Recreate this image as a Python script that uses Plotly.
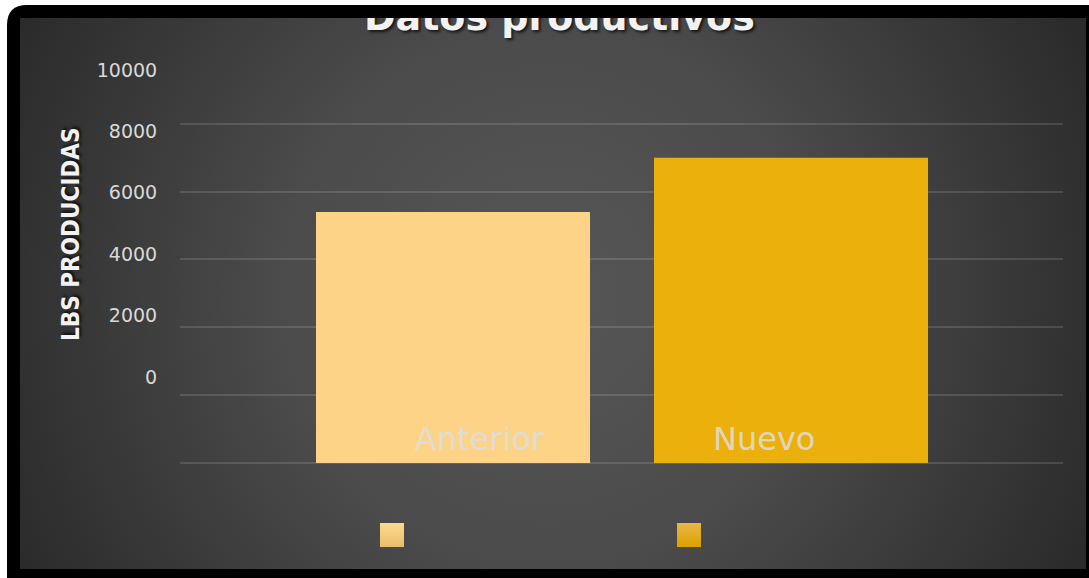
import base64
import plotly.graph_objects as go

# ---------------- data ----------------
categories = ["Anterior", "Nuevo"]
values = [5400, 7000]
tick_values = [0, 2000, 4000, 6000, 8000, 10000]
tick_labels = ["0", "2000", "4000", "6000", "8000", "10000"]
grid_values = [-2000, 0, 2000, 4000, 6000, 8000]
axis_floor = -2000
title_text = "Datos productivos"
y_title_text = "LBS PRODUCIDAS"

# ---------------- style / layout constants ----------------
W, H = 1089, 578
bar_colors = ["#FDD487", "#ECB00C"]
swatch_top = ["#FFD98F", "#E9B744"]
swatch_bottom = ["#E8BE6B", "#DCA000"]
label_xshift = [27, -27]

def px_x(p):
    return p / W

def px_y(p):
    return (H - p) / H

# background: white page, black rounded frame, dark radial gradient panel
svg = f"""<svg xmlns="http://www.w3.org/2000/svg" width="{W}" height="{H}" viewBox="0 0 {W} {H}">
<defs><radialGradient id="g" cx="548" cy="295" r="600" gradientUnits="userSpaceOnUse">
<stop offset="0" stop-color="#575757"/><stop offset="0.45" stop-color="#4b4b4b"/><stop offset="1" stop-color="#2a2a2a"/>
</radialGradient></defs>
<rect width="{W}" height="{H}" fill="#ffffff"/>
<path d="M7,{H} L7,25 Q7,5 27,5 L{W},5 L{W},{H} Z" fill="#000000"/>
<rect x="20" y="18" width="1066" height="551" fill="url(#g)"/>
</svg>"""
bg_src = "data:image/svg+xml;base64," + base64.b64encode(svg.encode()).decode()

fig = go.Figure()

# bars
fig.add_trace(go.Bar(
    x=categories,
    y=[v - axis_floor for v in values],
    base=axis_floor,
    width=0.8107,
    marker=dict(color=bar_colors, line=dict(width=0)),
    xaxis="x", yaxis="y",
    showlegend=False,
    hovertemplate="%{x}: %{customdata}<extra></extra>",
    customdata=values,
))

# invisible trace to activate the label axis
fig.add_trace(go.Scatter(
    x=categories, y=values, xaxis="x", yaxis="y2", mode="markers",
    marker=dict(opacity=0), showlegend=False, hoverinfo="skip",
))

# title (its top is hidden behind the frame band)
fig.add_trace(go.Scatter(
    x=[0.506], y=[0.93], xaxis="x3", yaxis="y3", mode="text",
    text=[title_text], textposition="middle center",
    textfont=dict(family="DejaVu Sans", size=38, color="#F2F2F2", weight="bold",
                  shadow="2px 2px 3px rgba(0,0,0,0.7)"),
    cliponaxis=True, showlegend=False, hoverinfo="skip",
))

# legend swatches (no text)
fig.add_trace(go.Scatter(
    x=categories, y=[0.5, 0.5], xaxis="x4", yaxis="y4", mode="markers",
    marker=dict(symbol="square", size=24, color=swatch_top,
                gradient=dict(type="vertical", color=swatch_bottom),
                line=dict(width=0)),
    showlegend=False, hoverinfo="skip",
))

x_dom = [px_x(180), px_x(1063)]
y_dom = [px_y(464), px_y(56)]

annotations = []
for i, c in enumerate(categories):
    annotations.append(dict(
        x=c, y=axis_floor, xref="x", yref="y", text=c, showarrow=False,
        xanchor="center", yanchor="middle", xshift=label_xshift[i], yshift=24,
        font=dict(family="DejaVu Sans", size=32, color="rgba(222,222,222,0.85)"),
    ))
annotations.append(dict(
    x=px_x(71), y=px_y(234), xref="paper", yref="paper", text=y_title_text,
    showarrow=False, textangle=-90, xanchor="center", yanchor="middle",
    font=dict(family="DejaVu Sans Condensed", size=24, color="#F2F2F2", weight="bold",
              shadow="2px 2px 3px rgba(0,0,0,0.7)"),
))

# frame band that covers the upper part of the title
shapes = [
    dict(type="rect", xref="paper", yref="paper", layer="above",
         x0=px_x(27), x1=1, y0=px_y(18), y1=px_y(5),
         fillcolor="#000000", line=dict(width=0)),
    dict(type="rect", xref="paper", yref="paper", layer="above",
         x0=0, x1=1, y0=px_y(5), y1=1,
         fillcolor="#ffffff", line=dict(width=0)),
]

fig.update_layout(
    width=W, height=H,
    margin=dict(l=0, r=0, t=0, b=0),
    paper_bgcolor="#ffffff",
    plot_bgcolor="rgba(0,0,0,0)",
    images=[dict(source=bg_src, xref="paper", yref="paper", x=0, y=1,
                 sizex=1, sizey=1, xanchor="left", yanchor="top",
                 sizing="stretch", layer="below")],
    xaxis=dict(domain=x_dom, type="category", categoryorder="array",
               categoryarray=categories, range=[-0.8077, 1.8047],
               showgrid=False, zeroline=False, showline=False,
               showticklabels=False, ticks="", fixedrange=True),
    yaxis=dict(domain=y_dom, range=[-2030, 10000], tickvals=grid_values,
               showticklabels=False, ticks="", showgrid=True,
               gridcolor="rgba(255,255,255,0.13)", gridwidth=2,
               zeroline=False, showline=False, fixedrange=True),
    yaxis2=dict(overlaying="y", anchor="x", side="left",
                range=[-2834, 10456], tickvals=tick_values, ticktext=tick_labels,
                showgrid=False, zeroline=False, showline=False,
                ticks="outside", ticklen=18, tickcolor="rgba(0,0,0,0)",
                tickfont=dict(family="DejaVu Sans", size=19, color="#D9D9D9"),
                fixedrange=True),
    xaxis3=dict(domain=[px_x(20), px_x(1086)], range=[0, 1], visible=False,
                anchor="y3", fixedrange=True),
    yaxis3=dict(domain=[px_y(60), px_y(18)], range=[0, 1], visible=False,
                anchor="x3", fixedrange=True),
    xaxis4=dict(domain=x_dom, type="category", categoryorder="array",
                categoryarray=categories, range=[-0.7138, 2.2593],
                visible=False, anchor="y4", fixedrange=True),
    yaxis4=dict(domain=[px_y(555), px_y(515)], range=[0, 1], visible=False,
                anchor="x4", fixedrange=True),
    annotations=annotations,
    shapes=shapes,
    showlegend=False,
)

fig.write_html("out.html")
